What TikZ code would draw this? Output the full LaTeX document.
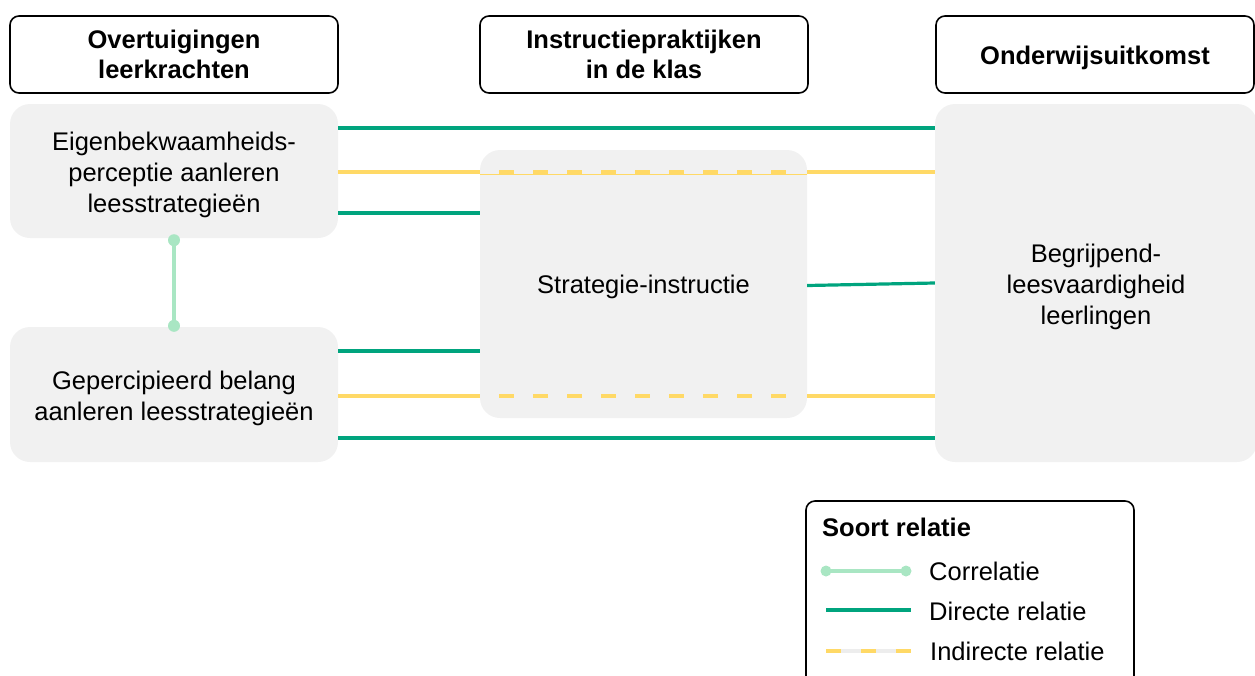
\documentclass[tikz,border=0pt]{standalone}
\usepackage{fontspec}
\setmainfont{Liberation Sans}
\definecolor{dgreen}{HTML}{00A47E}
\definecolor{lgreen}{HTML}{A9E6C3}
\definecolor{yel}{HTML}{FFD966}
\definecolor{boxgray}{HTML}{F1F1F1}
\definecolor{gapgray}{HTML}{EDEDED}
\tikzset{
  hdr/.style={draw=black, line width=1.6pt, rounded corners=9pt, fill=white, align=center,
    font=\fontsize{25.5}{30}\selectfont\bfseries, inner sep=0pt},
  gbox/.style={fill=boxgray, draw=none, rounded corners=20pt, inner sep=0pt},
  gtxt/.style={align=center, font=\fontsize{25.5}{31}\selectfont, inner sep=0pt},
  direct/.style={draw=dgreen, line width=3.2pt},
  indirect/.style={draw=yel, line width=3.2pt},
  inddash/.style={draw=yel, line width=3.2pt, dash pattern=on 15pt off 19pt},
  corr/.style={draw=lgreen, line width=3.5pt},
  lbl/.style={anchor=west, font=\fontsize{25.5}{30}\selectfont, inner sep=0pt},
}
\begin{document}
\begin{tikzpicture}[x=1pt,y=-1pt]
\useasboundingbox (0,0) rectangle (1255,675);
\clip (0,0) rectangle (1255,675);
% header boxes
\node[hdr, minimum width=328pt, minimum height=77pt] (h1) at (174,54.5) {Overtuigingen\\leerkrachten};
\node[hdr, minimum width=328pt, minimum height=77pt] (h2) at (644,54.5) {Instructiepraktijken\\in de klas};
\node[hdr, minimum width=318pt, minimum height=77pt] (h3) at (1095,54.5) {};
\node[font=\fontsize{25.5}{30}\selectfont\bfseries, inner sep=0pt] (h3t) at ([yshift=-3pt]h3.center) {Onderwijsuitkomst};
% gray boxes
\node[gbox, minimum width=328pt, minimum height=134pt] (e) at (174,171) {};
\node[gtxt] (et) at ([yshift=-4pt]e.center) {Eigenbekwaamheids-\\perceptie aanleren\\leesstrategieën};
\node[gbox, minimum width=328pt, minimum height=135pt] (g) at (174,394.5) {};
\node[gtxt] (gt) at ([yshift=-4pt]g.center) {Gepercipieerd belang\\aanleren leesstrategieën};
\node[gbox, minimum width=327pt, minimum height=268pt] (s) at (643.5,284) {};
\node[gtxt] (st) at ([yshift=-3pt]s.center) {Strategie-instructie};
\node[gbox, minimum width=322pt, minimum height=358pt] (b) at (1096,283) {};
\node[gtxt] (bt) at ([yshift=-4pt]b.center) {Begrijpend-\\leesvaardigheid\\leerlingen};
% direct relations
\draw[direct] (e.east |- 0,128) -- (b.west |- 0,128);
\draw[direct] (e.east |- 0,213) -- (s.west |- 0,213);
\draw[direct] (g.east |- 0,351) -- (s.west |- 0,351);
\draw[direct] (g.east |- 0,438) -- (b.west |- 0,438);
\draw[direct] (s.east |- 0,285.5) -- (b.west |- 0,283);
% indirect relations
\draw[indirect] (e.east |- 0,172) -- (s.west |- 0,172);
\draw[indirect] (s.east |- 0,172) -- (b.west |- 0,172);
\draw[draw=yel, line width=1pt] (s.west |- 0,174) -- (s.east |- 0,174);
\draw[inddash] (499,172) -- (790,172);
\draw[indirect] (g.east |- 0,396) -- (s.west |- 0,396);
\draw[indirect] (s.east |- 0,396) -- (b.west |- 0,396);
\draw[inddash] (499,396) -- (790,396);
% correlation
\coordinate (c1) at (e.south -| 174,0);
\coordinate (c2) at (g.north -| 174,0);
\draw[corr] ([yshift=-2pt]c1) -- ([yshift=1pt]c2);
\fill[lgreen] ([yshift=-2pt]c1) circle (6pt);
\fill[lgreen] ([yshift=1pt]c2) circle (6pt);
% legend
\node[draw=black, line width=1.6pt, rounded corners=9pt, minimum width=328pt, minimum height=190pt, inner sep=0pt] (leg) at (970,596) {};
\node[anchor=west, font=\fontsize{25.5}{30}\selectfont\bfseries, inner sep=0pt] (lt) at (822,527) {Soort relatie};
\coordinate (la1) at (826,571); \coordinate (lb1) at (906,571);
\draw[corr] (la1) -- (lb1);
\fill[lgreen] (la1) circle (5.5pt);
\fill[lgreen] (lb1) circle (5.5pt);
\node[lbl] (l1) at (929,571) {Correlatie};
\coordinate (la2) at (826,610); \coordinate (lb2) at (911,610);
\draw[direct] (la2) -- (lb2);
\node[lbl] (l2) at (929,611) {Directe relatie};
\coordinate (la3) at (826,651); \coordinate (lb3) at (911,651);
\draw[draw=gapgray, line width=3.2pt] (la3) -- (lb3);
\draw[draw=yel, line width=3.2pt, dash pattern=on 15pt off 20pt] (la3) -- (lb3);
\node[lbl] (l3) at (930,651) {Indirecte relatie};
\end{tikzpicture}
\end{document}
